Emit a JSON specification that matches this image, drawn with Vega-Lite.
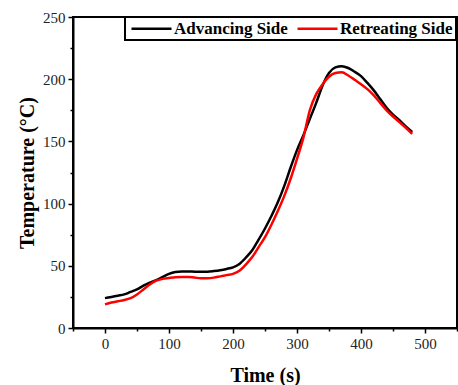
{
  "$schema": "https://vega.github.io/schema/vega-lite/v6.json",
  "width": 384,
  "height": 311,
  "autosize": {"type": "none"},
  "padding": {"left": 73, "top": 17, "right": 1, "bottom": 57},
  "config": {
    "view": {"stroke": "#000000", "strokeWidth": 2},
    "font": "Liberation Serif",
    "axis": {
      "grid": false,
      "domainColor": "#000000",
      "domainWidth": 2,
      "tickColor": "#000000",
      "tickWidth": 1.5,
      "tickSize": 5,
      "labelFont": "Liberation Serif",
      "labelFontSize": 15,
      "labelColor": "#222222",
      "labelPadding": 3,
      "titleFont": "Liberation Serif",
      "titleFontSize": 20,
      "titleFontWeight": "bold",
      "titleColor": "#000000"
    }
  },
  "data": {
    "values": [
      {"t": 0, "v": 24, "s": "Advancing Side"},
      {"t": 10, "v": 25, "s": "Advancing Side"},
      {"t": 20, "v": 26, "s": "Advancing Side"},
      {"t": 30, "v": 27, "s": "Advancing Side"},
      {"t": 40, "v": 29, "s": "Advancing Side"},
      {"t": 50, "v": 31, "s": "Advancing Side"},
      {"t": 60, "v": 34, "s": "Advancing Side"},
      {"t": 70, "v": 36.5, "s": "Advancing Side"},
      {"t": 80, "v": 38.5, "s": "Advancing Side"},
      {"t": 90, "v": 41, "s": "Advancing Side"},
      {"t": 100, "v": 43.5, "s": "Advancing Side"},
      {"t": 110, "v": 45, "s": "Advancing Side"},
      {"t": 120, "v": 45.5, "s": "Advancing Side"},
      {"t": 130, "v": 45.5, "s": "Advancing Side"},
      {"t": 140, "v": 45.3, "s": "Advancing Side"},
      {"t": 150, "v": 45.2, "s": "Advancing Side"},
      {"t": 160, "v": 45.3, "s": "Advancing Side"},
      {"t": 170, "v": 45.8, "s": "Advancing Side"},
      {"t": 180, "v": 46.5, "s": "Advancing Side"},
      {"t": 190, "v": 47.5, "s": "Advancing Side"},
      {"t": 200, "v": 48.8, "s": "Advancing Side"},
      {"t": 210, "v": 51.5, "s": "Advancing Side"},
      {"t": 220, "v": 56.5, "s": "Advancing Side"},
      {"t": 230, "v": 62.5, "s": "Advancing Side"},
      {"t": 240, "v": 71, "s": "Advancing Side"},
      {"t": 250, "v": 80, "s": "Advancing Side"},
      {"t": 260, "v": 90, "s": "Advancing Side"},
      {"t": 270, "v": 101, "s": "Advancing Side"},
      {"t": 280, "v": 114, "s": "Advancing Side"},
      {"t": 290, "v": 129, "s": "Advancing Side"},
      {"t": 300, "v": 143, "s": "Advancing Side"},
      {"t": 310, "v": 155, "s": "Advancing Side"},
      {"t": 320, "v": 168, "s": "Advancing Side"},
      {"t": 330, "v": 181, "s": "Advancing Side"},
      {"t": 340, "v": 195, "s": "Advancing Side"},
      {"t": 350, "v": 205, "s": "Advancing Side"},
      {"t": 360, "v": 209.5, "s": "Advancing Side"},
      {"t": 370, "v": 210.5, "s": "Advancing Side"},
      {"t": 380, "v": 209, "s": "Advancing Side"},
      {"t": 390, "v": 206, "s": "Advancing Side"},
      {"t": 400, "v": 202.5, "s": "Advancing Side"},
      {"t": 410, "v": 197, "s": "Advancing Side"},
      {"t": 420, "v": 191, "s": "Advancing Side"},
      {"t": 430, "v": 184, "s": "Advancing Side"},
      {"t": 440, "v": 177, "s": "Advancing Side"},
      {"t": 450, "v": 171.5, "s": "Advancing Side"},
      {"t": 460, "v": 167, "s": "Advancing Side"},
      {"t": 470, "v": 162, "s": "Advancing Side"},
      {"t": 480, "v": 157.5, "s": "Advancing Side"},
      {"t": 0, "v": 19, "s": "Retreating Side"},
      {"t": 10, "v": 20.5, "s": "Retreating Side"},
      {"t": 20, "v": 21.5, "s": "Retreating Side"},
      {"t": 30, "v": 22.5, "s": "Retreating Side"},
      {"t": 40, "v": 24, "s": "Retreating Side"},
      {"t": 50, "v": 27, "s": "Retreating Side"},
      {"t": 60, "v": 31, "s": "Retreating Side"},
      {"t": 70, "v": 35, "s": "Retreating Side"},
      {"t": 80, "v": 38, "s": "Retreating Side"},
      {"t": 90, "v": 39.5, "s": "Retreating Side"},
      {"t": 100, "v": 40.2, "s": "Retreating Side"},
      {"t": 110, "v": 40.8, "s": "Retreating Side"},
      {"t": 120, "v": 41, "s": "Retreating Side"},
      {"t": 130, "v": 41, "s": "Retreating Side"},
      {"t": 140, "v": 40.5, "s": "Retreating Side"},
      {"t": 150, "v": 40, "s": "Retreating Side"},
      {"t": 160, "v": 40, "s": "Retreating Side"},
      {"t": 170, "v": 40.5, "s": "Retreating Side"},
      {"t": 180, "v": 41.5, "s": "Retreating Side"},
      {"t": 190, "v": 42.5, "s": "Retreating Side"},
      {"t": 200, "v": 43.5, "s": "Retreating Side"},
      {"t": 210, "v": 46, "s": "Retreating Side"},
      {"t": 220, "v": 51, "s": "Retreating Side"},
      {"t": 230, "v": 57, "s": "Retreating Side"},
      {"t": 240, "v": 65, "s": "Retreating Side"},
      {"t": 250, "v": 73, "s": "Retreating Side"},
      {"t": 260, "v": 83, "s": "Retreating Side"},
      {"t": 270, "v": 94, "s": "Retreating Side"},
      {"t": 280, "v": 106, "s": "Retreating Side"},
      {"t": 290, "v": 120, "s": "Retreating Side"},
      {"t": 300, "v": 136, "s": "Retreating Side"},
      {"t": 310, "v": 153, "s": "Retreating Side"},
      {"t": 320, "v": 175, "s": "Retreating Side"},
      {"t": 330, "v": 188, "s": "Retreating Side"},
      {"t": 340, "v": 196, "s": "Retreating Side"},
      {"t": 350, "v": 202, "s": "Retreating Side"},
      {"t": 360, "v": 205, "s": "Retreating Side"},
      {"t": 370, "v": 205.5, "s": "Retreating Side"},
      {"t": 380, "v": 203, "s": "Retreating Side"},
      {"t": 390, "v": 199.5, "s": "Retreating Side"},
      {"t": 400, "v": 196, "s": "Retreating Side"},
      {"t": 410, "v": 192, "s": "Retreating Side"},
      {"t": 420, "v": 187, "s": "Retreating Side"},
      {"t": 430, "v": 181, "s": "Retreating Side"},
      {"t": 440, "v": 175, "s": "Retreating Side"},
      {"t": 450, "v": 170, "s": "Retreating Side"},
      {"t": 460, "v": 165.5, "s": "Retreating Side"},
      {"t": 470, "v": 161, "s": "Retreating Side"},
      {"t": 480, "v": 156, "s": "Retreating Side"}
    ]
  },
  "layer": [
    {
      "mark": {"type": "point", "opacity": 0},
      "encoding": {
        "x": {"field": "t", "type": "quantitative", "scale": {"domain": [-50, 550], "nice": false},
          "axis": {"orient": "bottom", "values": [-50, 50, 150, 250, 350, 450, 550], "labels": false, "domain": false, "tickSize": 3, "title": null}},
        "y": {"field": "v", "type": "quantitative", "scale": {"domain": [0, 250], "nice": false},
          "axis": {"orient": "left", "values": [25, 75, 125, 175, 225], "labels": false, "domain": false, "tickSize": 3, "title": null}}
      }
    },
    {
      "mark": {"type": "line", "strokeWidth": 2.5, "interpolate": "monotone"},
      "encoding": {
        "x": {"field": "t", "type": "quantitative", "scale": {"domain": [-50, 550], "nice": false},
          "axis": {"orient": "bottom", "values": [0, 100, 200, 300, 400, 500], "title": "Time (s)", "titlePadding": 14}},
        "y": {"field": "v", "type": "quantitative", "scale": {"domain": [0, 250], "nice": false},
          "axis": {"orient": "left", "values": [0, 50, 100, 150, 200, 250], "title": "Temperature (°C)", "titlePadding": 5}},
        "color": {
          "field": "s", "type": "nominal",
          "scale": {"domain": ["Advancing Side", "Retreating Side"], "range": ["#000000", "#ff0000"]},
          "legend": {
            "title": null,
            "orient": "none",
            "legendX": 52,
            "legendY": 0,
            "direction": "horizontal",
            "symbolType": "M-1,0H7",
            "symbolSize": 100,
            "symbolStrokeWidth": 2.5,
            "labelFont": "Liberation Serif",
            "labelFontSize": 17,
            "labelFontWeight": "bold",
            "labelColor": "#000000",
            "labelOffset": 29,
            "columnPadding": 4,
            "padding": 3,
            "strokeColor": "#000000",
            "fillColor": "#ffffff",
            "encode": {"legend": {"update": {"strokeWidth": {"value": 2}}}}
          }
        }
      }
    }
  ],
  "resolve": {"axis": {"x": "independent", "y": "independent"}}
}
